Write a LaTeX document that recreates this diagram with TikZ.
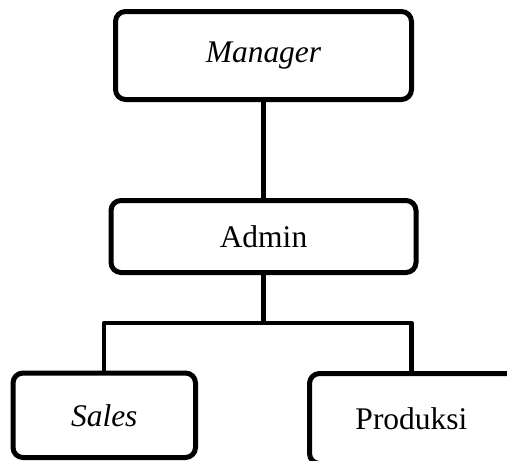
\documentclass[tikz,border=0pt]{standalone}
\usepackage{fontspec}
\setmainfont{Liberation Serif}
\begin{document}
\begin{tikzpicture}[x=1pt,y=-1pt,
  orgbox/.style={draw=black, line width=5pt, rounded corners=10pt, rectangle,
    inner sep=0pt, font=\fontsize{31.5}{36}\selectfont},
  link/.style={draw=black, line width=4.3pt, line join=round}]
\useasboundingbox (0,0) rectangle (507,461);
\node[orgbox, minimum width=296pt, minimum height=88pt] (manager) at (263.5,55.5) {\itshape Manager};
\node[orgbox, minimum width=305pt, minimum height=72pt] (admin) at (263.5,236.5) {Admin};
\node[orgbox, minimum width=182.5pt, minimum height=84.5pt] (sales) at (104.25,415.25) {\itshape Sales};
\node[orgbox, minimum width=215pt, minimum height=90pt] (produksi) at (417,418.5) {Produksi\hspace*{11pt}};
\coordinate (split) at (263.5,322.7);
\coordinate (dropright) at (411.5,322.7);
\draw[link] (manager.south) -- (admin.north);
\draw[link] (admin.south) -- (split);
\draw[link] (sales.north) -- (sales.north |- split) -- (dropright) -- (dropright |- produksi.north);
\end{tikzpicture}
\end{document}
